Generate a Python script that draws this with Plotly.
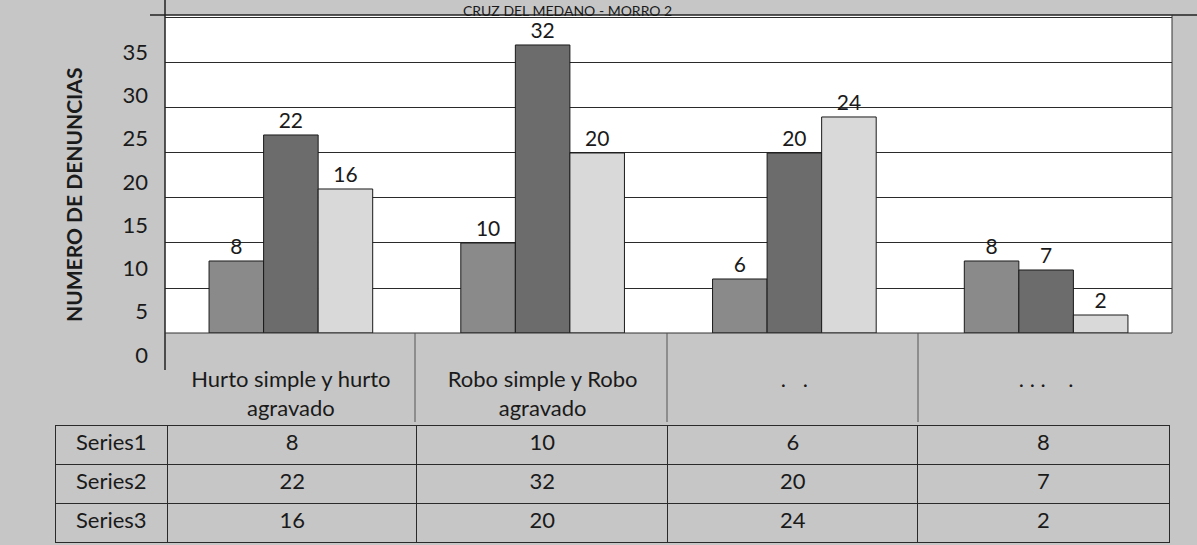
import plotly.graph_objects as go

W, H = 1197, 545

categories = ["Hurto simple y hurto agravado", "Robo simple y Robo agravado", ". .", ". . .  ."]
tick_labels = ["Hurto simple y hurto<br>agravado", "Robo simple y Robo<br>agravado", ".   .", ". . .    ."]
series_names = ["Series1", "Series2", "Series3"]
series1 = [8, 10, 6, 8]
series2 = [22, 32, 20, 7]
series3 = [16, 20, 24, 2]
y_ticks = [0, 5, 10, 15, 20, 25, 30, 35]
title_text = "CRUZ DEL MEDANO - MORRO 2"
y_title = "NUMERO DE DENUNCIAS"

series_values = [series1, series2, series3]
colors = ["#8a8a8a", "#6c6c6c", "#d9d9d9"]
BG = "#c6c6c6"
FONT = "Lato"
TXT = "#1a1a1a"

def px_x(p):
    return p / W

def px_y(p):
    return 1 - p / H

fig = go.Figure()
for name, vals, col in zip(series_names, series_values, colors):
    fig.add_trace(go.Bar(
        x=categories, y=vals, name=name,
        marker=dict(color=col, line=dict(color=TXT, width=1)),
        text=[str(v) for v in vals], textposition="outside",
        textfont=dict(size=21, color=TXT, family=FONT),
        cliponaxis=False, showlegend=False,
    ))

# invisible trace carrying the offset tick-label axis
fig.add_trace(go.Scatter(x=[categories[0]], y=[None], yaxis="y2", mode="markers",
                         showlegend=False, hoverinfo="skip"))

# data table
fig.add_trace(go.Table(
    domain=dict(x=[px_x(55), px_x(1170)], y=[0, px_y(425)]),
    columnwidth=[113, 250, 252, 251, 252],
    header=dict(values=[series_names[0]] + [str(v) for v in series1],
                fill_color=BG, line=dict(color="#2a2a2a", width=1),
                font=dict(size=22, color=TXT, family=FONT),
                align="center", height=39),
    cells=dict(values=[[series_names[1], series_names[2]]] +
                      [[str(a), str(b)] for a, b in zip(series2, series3)],
               fill_color=BG, line=dict(color="#2a2a2a", width=1),
               font=dict(size=22, color=TXT, family=FONT),
               align="center", height=39),
))

shapes = []
# white back wall
shapes.append(dict(type="rect", xref="paper", yref="paper", layer="below",
                   x0=px_x(165), x1=px_x(1172), y0=px_y(333), y1=px_y(15),
                   fillcolor="white", line=dict(width=0)))
# left axis line
shapes.append(dict(type="line", xref="paper", yref="paper",
                   x0=px_x(165), x1=px_x(165), y0=px_y(0), y1=px_y(370),
                   line=dict(color="#222", width=1.5)))
# top border line of chart frame
shapes.append(dict(type="line", xref="paper", yref="paper",
                   x0=px_x(150), x1=1, y0=px_y(15), y1=px_y(15),
                   line=dict(color="#222", width=1.5)))
# right border of back wall
shapes.append(dict(type="line", xref="paper", yref="paper",
                   x0=px_x(1172), x1=px_x(1172), y0=px_y(15), y1=px_y(333),
                   line=dict(color="#333", width=1)))
# floor edge
shapes.append(dict(type="line", xref="paper", yref="paper",
                   x0=px_x(165), x1=px_x(1172), y0=px_y(333), y1=px_y(333),
                   line=dict(color="#333", width=1)))
# category dividers
for xd in [415, 667, 918]:
    shapes.append(dict(type="line", xref="paper", yref="paper",
                       x0=px_x(xd), x1=px_x(xd), y0=px_y(333), y1=px_y(422),
                       line=dict(color="#555", width=1)))

annotations = [
    dict(text=title_text, xref="paper", yref="paper", x=px_x(567), y=1,
         xanchor="center", yanchor="top", showarrow=False,
         font=dict(size=14, color=TXT, family=FONT)),
    dict(text="<b>" + y_title + "</b>", xref="paper", yref="paper",
         x=px_x(73), y=px_y(195), textangle=-90, showarrow=False,
         xanchor="center", yanchor="middle",
         font=dict(size=21, color=TXT, family=FONT)),
]

fig.update_layout(
    width=W, height=H,
    margin=dict(l=0, r=0, t=0, b=0, autoexpand=False),
    paper_bgcolor=BG, plot_bgcolor="rgba(0,0,0,0)",
    barmode="group", bargap=0.35, bargroupgap=0,
    font=dict(family=FONT, color=TXT),
    xaxis=dict(domain=[px_x(165), px_x(1172)], tickmode="array",
               tickvals=categories, ticktext=tick_labels,
               tickfont=dict(size=22, family=FONT, color=TXT),
               ticks="", showline=False, ticklabelstandoff=31, automargin=False),
    yaxis=dict(domain=[px_y(333), px_y(15)], range=[0, 35.33],
               tickvals=[5, 10, 15, 20, 25, 30, 35], showticklabels=False,
               showgrid=True, gridcolor="#2a2a2a", gridwidth=1,
               zeroline=False, showline=False, ticks="", automargin=False),
    yaxis2=dict(domain=[px_y(355), px_y(52)], range=[0, 35],
                anchor="x", tickvals=y_ticks, showgrid=False, zeroline=False,
                showline=False, ticks="", ticklabelstandoff=16, automargin=False,
                tickfont=dict(size=22, family=FONT, color=TXT)),
    shapes=shapes, annotations=annotations,
)

fig.write_html("out.html", config={"displayModeBar": False},
               post_script="document.body.style.margin='0';document.body.style.overflow='hidden';")
